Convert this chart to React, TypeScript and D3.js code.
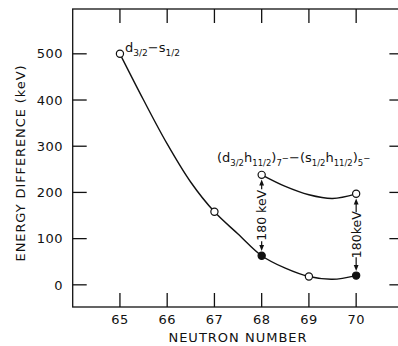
import React from 'react';
import * as d3 from 'd3';

const xTicks = [65, 66, 67, 68, 69, 70];
const yTicks = [0, 100, 200, 300, 400, 500];
const lowerN = [65, 67, 68, 69, 70];
const lowerE = [500, 158, 63, 18, 20];
const lowerFilled = [false, false, true, false, true];
const upperN = [68, 70];
const upperE = [238, 197];
// hand-drawn guide curves
const lowerGuideN = [65, 65.5, 66, 66.5, 67, 67.5, 68, 68.5, 69, 69.5, 70];
const lowerGuideE = [500, 400, 305, 222, 158, 110, 63, 36, 18, 12, 20];
const upperGuideN = [68, 68.5, 69, 69.5, 70];
const upperGuideE = [238, 213, 195, 187, 197];
const gapN = [68, 70];
const gapLabel = ['180 keV', '180keV'];

type Seg = { t: string; s?: 'sub' | 'sup' };
const label1: Seg[] = [
  { t: 'd' }, { t: '3/2', s: 'sub' }, { t: '\u2212s' }, { t: '1/2', s: 'sub' },
];
const label2: Seg[] = [
  { t: '(d' }, { t: '3/2', s: 'sub' }, { t: 'h' }, { t: '11/2', s: 'sub' }, { t: ')' },
  { t: '7', s: 'sub' }, { t: '\u2212', s: 'sup' }, { t: '\u2212(s' }, { t: '1/2', s: 'sub' },
  { t: 'h' }, { t: '11/2', s: 'sub' }, { t: ')' }, { t: '5', s: 'sub' }, { t: '\u2212', s: 'sup' },
];

const W = 398, H = 346;
const INK = '#111';
const FONT = 'DejaVu Sans, sans-serif';

function RichText({ segs, x, y, size, subSize }: { segs: Seg[]; x: number; y: number; size: number; subSize: number }) {
  let cur = 0;
  return (
    <text x={x} y={y} fontSize={size} fontFamily={FONT} fill={INK}>
      {segs.map((sg, i) => {
        const target = sg.s === 'sub' ? 4 : sg.s === 'sup' ? -1 : 0;
        const dy = target - cur;
        cur = target;
        return (
          <tspan key={i} dy={dy} fontSize={sg.s ? subSize : size}>{sg.t}</tspan>
        );
      })}
    </text>
  );
}

export default function App() {
  const x = d3.scaleLinear().domain([64, 71]).range([72.7, 403.4]);
  const y = d3.scaleLinear().domain([-48, 597]).range([307, 9]);
  const line = d3.line<[number, number]>().x(d => x(d[0])).y(d => y(d[1])).curve(d3.curveCatmullRom.alpha(0.5));
  const lowerPath = line(lowerGuideN.map((n, i) => [n, lowerGuideE[i]] as [number, number]))!;
  const upperPath = line(upperGuideN.map((n, i) => [n, upperGuideE[i]] as [number, number]))!;
  const [x0, x1] = x.range();
  const [yb, yt] = y.range();
  const tick = 14;
  const r = 3.6;

  const arrows = gapN.map((n, i) => {
    const cx = x(n);
    const top = y(upperE[upperN.indexOf(n)]) + r + 1;
    const bot = y(lowerE[lowerN.indexOf(n)]) - r - 1;
    const mid = (top + bot) / 2;
    const half = gapLabel[i].length * 3.5 + 1.5;
    return { cx, top, bot, mid, half, label: gapLabel[i] };
  });

  return (
    <svg width={W} height={H} style={{ position: 'absolute', left: 0, top: 0, background: '#fff' }}>
      <rect x={0} y={0} width={W} height={H} fill="#fff" />
      <rect x={x0} y={yt} width={x1 - x0} height={yb - yt} fill="none" stroke={INK} strokeWidth={1.3} />
      {yTicks.map(t => (
        <g key={'y' + t}>
          <line x1={x0} x2={x0 + tick} y1={y(t)} y2={y(t)} stroke={INK} strokeWidth={1.3} />
          <line x1={x1} x2={x1 - tick} y1={y(t)} y2={y(t)} stroke={INK} strokeWidth={1.3} />
          <text x={63} y={y(t)} dy="0.36em" textAnchor="end" fontSize={13} fontFamily={FONT} fill={INK} letterSpacing={0.5}>{t}</text>
        </g>
      ))}
      {xTicks.map(t => (
        <g key={'x' + t}>
          <line x1={x(t)} x2={x(t)} y1={yb} y2={yb - tick} stroke={INK} strokeWidth={1.3} />
          <line x1={x(t)} x2={x(t)} y1={yt} y2={yt + tick} stroke={INK} strokeWidth={1.3} />
          <text x={x(t)} y={324} textAnchor="middle" fontSize={13} fontFamily={FONT} fill={INK} letterSpacing={0.5}>{t}</text>
        </g>
      ))}
      <text x={238} y={341.5} textAnchor="middle" fontSize={13} fontFamily={FONT} fill={INK} letterSpacing={1}>NEUTRON NUMBER</text>
      <g transform="translate(25,163) rotate(-90)">
        <text x={0} y={0} textAnchor="middle" fontSize={13} fontFamily={FONT} fill={INK} letterSpacing={0.9}>ENERGY DIFFERENCE (keV)</text>
      </g>

      <path d={lowerPath} fill="none" stroke={INK} strokeWidth={1.4} />
      <path d={upperPath} fill="none" stroke={INK} strokeWidth={1.4} />

      {arrows.map((a, i) => (
        <g key={'g' + i}>
          <path d={`M${a.cx},${a.top + 5}V${a.mid - a.half}M${a.cx},${a.mid + a.half}V${a.bot - 5}`} fill="none" stroke={INK} strokeWidth={1.2} />
          <path d={`M${a.cx},${a.top}l-2.4,6h4.8z`} fill={INK} />
          <path d={`M${a.cx},${a.bot}l-2.4,-6h4.8z`} fill={INK} />
          <g transform={`translate(${a.cx},${a.mid}) rotate(-90)`}>
            <text x={0} y={4.5} textAnchor="middle" fontSize={12.5} fontFamily={FONT} fill={INK}>{a.label}</text>
          </g>
        </g>
      ))}

      {lowerN.map((n, i) => (
        <circle key={'l' + i} cx={x(n)} cy={y(lowerE[i])} r={r} fill={lowerFilled[i] ? INK : '#fff'} stroke={INK} strokeWidth={1.2} />
      ))}
      {upperN.map((n, i) => (
        <circle key={'u' + i} cx={x(n)} cy={y(upperE[i])} r={r} fill="#fff" stroke={INK} strokeWidth={1.2} />
      ))}

      <RichText segs={label1} x={125} y={52} size={13} subSize={9} />
      <RichText segs={label2} x={217} y={162} size={13} subSize={8.5} />
    </svg>
  );
}
